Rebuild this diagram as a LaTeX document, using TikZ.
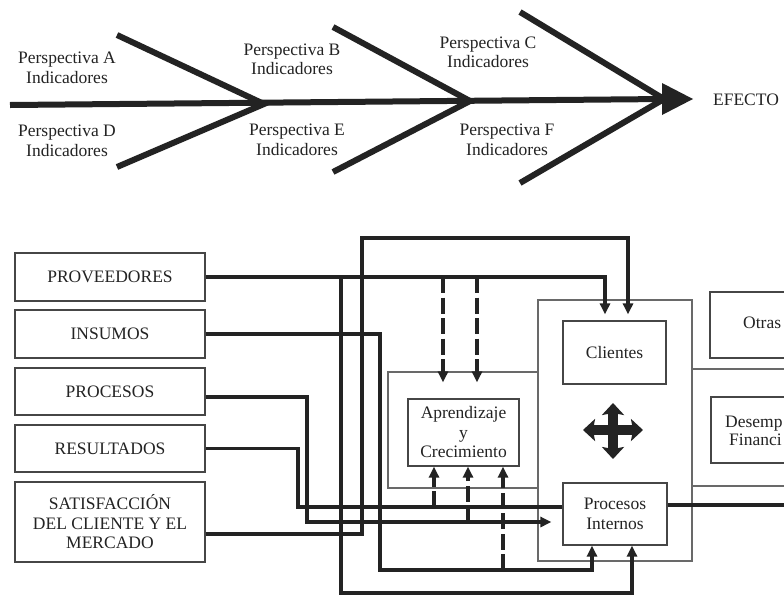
\documentclass[tikz,border=0pt]{standalone}
\usepackage{fontspec}
\setmainfont{Liberation Serif}
\usetikzlibrary{arrows.meta}
\definecolor{ink}{RGB}{35,35,35}
\definecolor{boxgray}{RGB}{70,70,70}
\definecolor{contgray}{RGB}{105,105,105}
\begin{document}
\begin{tikzpicture}[x=1pt,y=-1pt,
  every node/.style={font=\fontsize{17.5}{19.5}\selectfont, text=ink, inner sep=0pt},
  bone/.style={draw=ink, line width=6pt},
  lbox/.style={draw=boxgray, line width=1.4pt, minimum width=190pt, align=center},
  ibox/.style={draw=boxgray, line width=1.2pt, align=center},
  cont/.style={draw=contgray, line width=1.3pt},
  conn/.style={draw=ink, line width=3.2pt},
  tip/.style={-{Triangle[length=11pt,width=10pt]}},
  dashconn/.style={conn, dash pattern=on 16pt off 4.5pt},
  bigarrow/.style={draw=ink, line width=10pt, {Stealth[length=12pt,width=22pt,inset=2pt]}-{Stealth[length=12pt,width=22pt,inset=2pt]}},
]
\useasboundingbox (0,0) rectangle (784,595);
\fill[white] (0,0) rectangle (784,595);
\clip (0,0) rectangle (784,595);

% ---------- fishbone ----------
\draw[bone] (10,105) -- (665,99);
\fill[ink] (662,83) -- (693,99) -- (662,115) -- cycle;
\draw[bone] (117,35) -- (264,104) -- (117,167);
\draw[bone] (333,27) -- (470,101) -- (333,172);
\draw[bone] (520,12) -- (664,99) -- (520,183);

\node[align=center] (pa) at (67,68) {Perspectiva A\\Indicadores};
\node[align=center] (pd) at (67,141) {Perspectiva D\\Indicadores};
\node[align=center] (pb) at (292,59.5) {Perspectiva B\\Indicadores};
\node[align=center] (pe) at (297,140) {Perspectiva E\\Indicadores};
\node[align=center] (pc) at (488,52.5) {Perspectiva C\\Indicadores};
\node[align=center] (pf) at (507,140) {Perspectiva F\\Indicadores};
\node (ef) at (746,100) {EFECTO};

% ---------- containers ----------
\draw[cont] (388,372) rectangle (538,488);
\draw[cont] (538,300) rectangle (692,561);
\draw[cont] (692,369) rectangle (800,486);

% ---------- left boxes ----------
\node[lbox, minimum height=48pt] (prov) at (110,277) {PROVEEDORES};
\node[lbox, minimum height=48pt] (ins) at (110,334) {INSUMOS};
\node[lbox, minimum height=47pt] (pro) at (110,391.5) {PROCESOS};
\node[lbox, minimum height=47pt] (res) at (110,448.5) {RESULTADOS};
\node[lbox, minimum height=80pt] (sat) at (110,522) {SATISFACCIÓN\\DEL CLIENTE Y EL\\MERCADO};

% ---------- inner boxes ----------
\node[ibox, minimum width=111pt, minimum height=67pt] (apr) at (463.5,432.5) {Aprendizaje\\y\\Crecimiento};
\node[ibox, minimum width=103pt, minimum height=63pt] (cli) at (614.5,352.5) {Clientes};
\node[ibox, minimum width=104pt, minimum height=62pt] (proc) at (615,514) {Procesos\\Internos};
\node[ibox, minimum width=100pt, minimum height=66pt] (otr) at (760,325) {};
\node[ibox, minimum width=100pt, minimum height=66pt] (des) at (761,430) {};
\node[anchor=base west] (otrt) at (743,328) {Otras};
\node[anchor=base west] (dest1) at (725,427) {Desemp};
\node[anchor=base west] (dest2) at (729,445) {Financi};

% ---------- cross arrow ----------
\draw[bigarrow] (583,430) -- (643,430);
\draw[bigarrow] (613,403) -- (613,459);

% ---------- connectors ----------
\coordinate (jp) at (341,593);
\draw[conn,tip] (prov.east) -| ([xshift=-9.5pt,yshift=6pt]cli.north);
\draw[conn,tip] (prov.east -| jp) -- (jp) -| ([xshift=17pt]proc.south);
\draw[conn,tip] ([yshift=-12pt]sat.east) -| (362,238) -| ([xshift=13.5pt,yshift=6pt]cli.north);
\draw[conn,tip] (ins.east) -| (380,570) -| ([xshift=-23pt]proc.south);
\draw[conn,tip] ([yshift=-5.5pt]pro.east) -| (307,522) -- ([xshift=-11pt,yshift=-8pt]proc.west);
\draw[conn] (res.east) -| (298,507) -- ([yshift=7pt]proc.west);
\draw[conn] ([yshift=9pt]proc.east) -- (800,505);

% dashed feeds into Aprendizaje
\draw[dashconn,tip] (443,277) -- ([xshift=-20.5pt,yshift=16pt]apr.north);
\draw[dashconn,tip] (477,277) -- ([xshift=13.5pt,yshift=16pt]apr.north);
\draw[dashconn,tip] (434,507) -- ([xshift=-29.5pt]apr.south);
\draw[dashconn,tip] (468,522) -- ([xshift=4.5pt]apr.south);
\draw[dashconn,tip] (503,570) -- ([xshift=39.5pt]apr.south);
\end{tikzpicture}
\end{document}
